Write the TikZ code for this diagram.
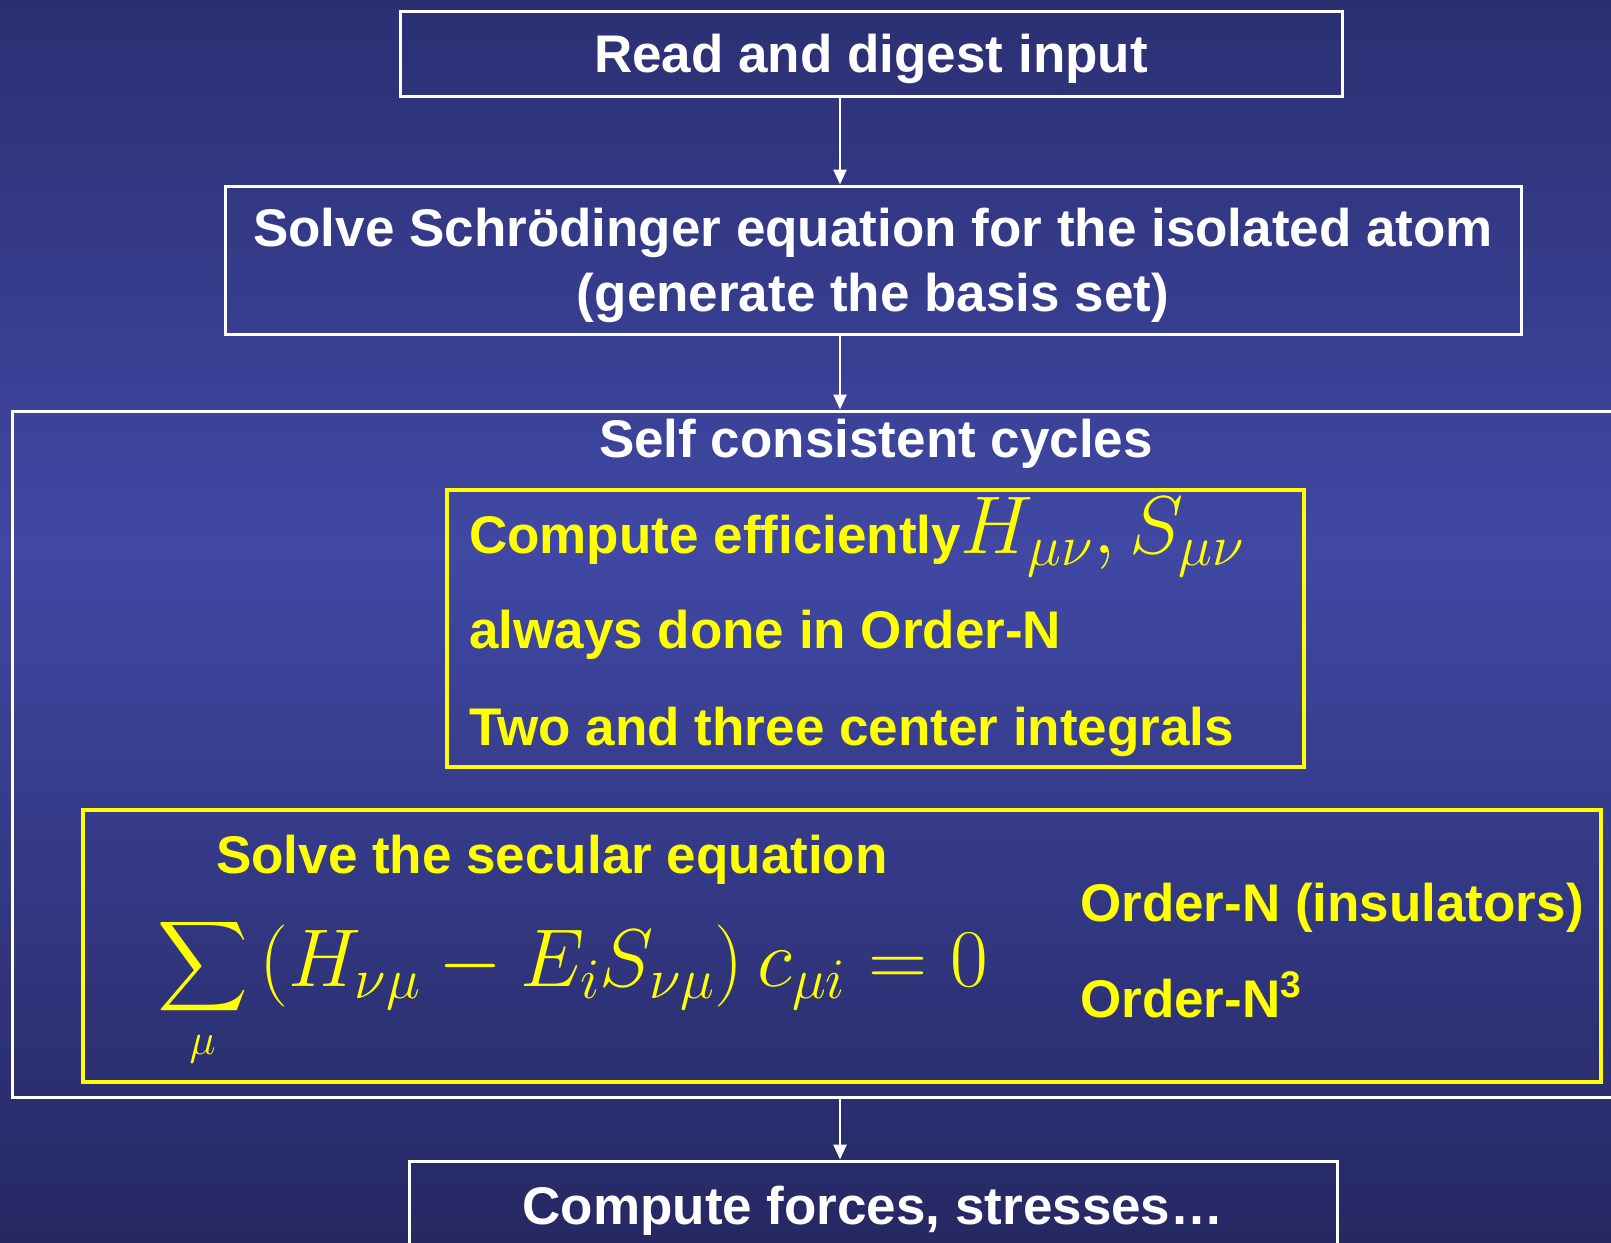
\RequirePackage{fix-cm}
\documentclass[tikz,border=0pt]{standalone}
\usepackage{fontspec}
\setmainfont{Liberation Sans}
\usetikzlibrary{arrows.meta, positioning}
\DeclareFontShape{OMX}{cmex}{m}{n}{<-> cmex10}{}

\definecolor{bgtop}{RGB}{43,47,114}
\definecolor{bgmid}{RGB}{64,72,164}
\definecolor{bgbot}{RGB}{37,40,98}
\definecolor{hiyellow}{RGB}{255,255,0}

\pgfdeclareverticalshading{slidebg}{100bp}{color(0bp)=(bgbot); color(25bp)=(bgbot); color(53bp)=(bgmid); color(75bp)=(bgtop); color(100bp)=(bgtop)}

\newcommand{\slidefont}{\fontsize{53}{65}\selectfont\bfseries}
\newcommand{\eqfont}{\fontsize{82}{86}\selectfont}
\newcommand{\sumfont}{\fontsize{63}{66}\selectfont}

\tikzset{
  wbox/.style={draw=white, line width=3pt, inner sep=0pt, text=white, font=\slidefont},
  ybox/.style={draw=hiyellow, line width=4pt, inner sep=0pt},
  wtxt/.style={text=white, inner sep=0pt, font=\slidefont},
  ytxt/.style={text=hiyellow, inner sep=0pt, font=\slidefont},
  flow/.style={draw=white, line width=2.5pt, -{Triangle[length=15pt, width=13pt]}}
}

\begin{document}
\begin{tikzpicture}[x=1pt, y=-1pt]
  \useasboundingbox (0,0) rectangle (1611,1242);
  % Background
  \shade[shading=slidebg] (0,0) rectangle (1611,1242);
  \coordinate (axis) at (840,0);

  % Steps outside the cycle
  \node[wbox, minimum width=942pt, minimum height=85pt, text height=38pt, text depth=0pt] (read) at (871,53.5) {Read and digest input};
  \node[wbox, minimum width=1296pt, minimum height=148pt, align=center, text depth=-12pt] (schr) at (873,260) {Solve Schrödinger equation for the isolated atom\\(generate the basis set)};
  \node[wbox, minimum width=928pt, minimum height=88pt, text height=38pt, text depth=0pt] (forces) at (873,1205) {Compute forces, stresses…};

  % Self consistent cycle
  \node[wbox, minimum width=1620pt, minimum height=686pt] (cycle) at (822,754) {};
  \node[wtxt, anchor=base] (cycletitle) at (876,457) {Self consistent cycles};

  % Hamiltonian and overlap
  \node[ybox, minimum width=857pt, minimum height=277pt] (hsbox) at (875.5,628.5) {};
  \node[ytxt, anchor=base west] (hs1) at (469,553) {Compute efficiently{\eqfont$H_{\mu\nu}, S_{\mu\nu}$}};
  \node[ytxt, anchor=base west] (hs2) at (469,648) {always done in Order-N};
  \node[ytxt, anchor=base west] (hs3) at (469,745) {Two and three center integrals};

  % Secular equation
  \node[ybox, minimum width=1518pt, minimum height=272pt] (secbox) at (842,946) {};
  \node[ytxt, anchor=base west] (sec) at (216,873) {Solve the secular equation};
  \node[ytxt, anchor=base west] (eq) at (157,986) {\raisebox{4pt}{\sumfont$\displaystyle\sum_{\mu}$}\hspace{11pt}{\eqfont$(H_{\nu\mu}-E_iS_{\nu\mu})\,c_{\mu i}=0$}};
  \node[ytxt, anchor=base west] (ordn) at (1080,921) {Order-N (insulators)};
  \node[ytxt, anchor=base west] (ordn3) at (1080,1017) {Order-N\textsuperscript{3}};

  % Connectors
  \draw[flow] (read.south -| axis) -- (schr.north -| axis);
  \draw[flow] (schr.south -| axis) -- (cycle.north -| axis);
  \draw[flow] (cycle.south -| axis) -- (forces.north -| axis);
\end{tikzpicture}
\end{document}
